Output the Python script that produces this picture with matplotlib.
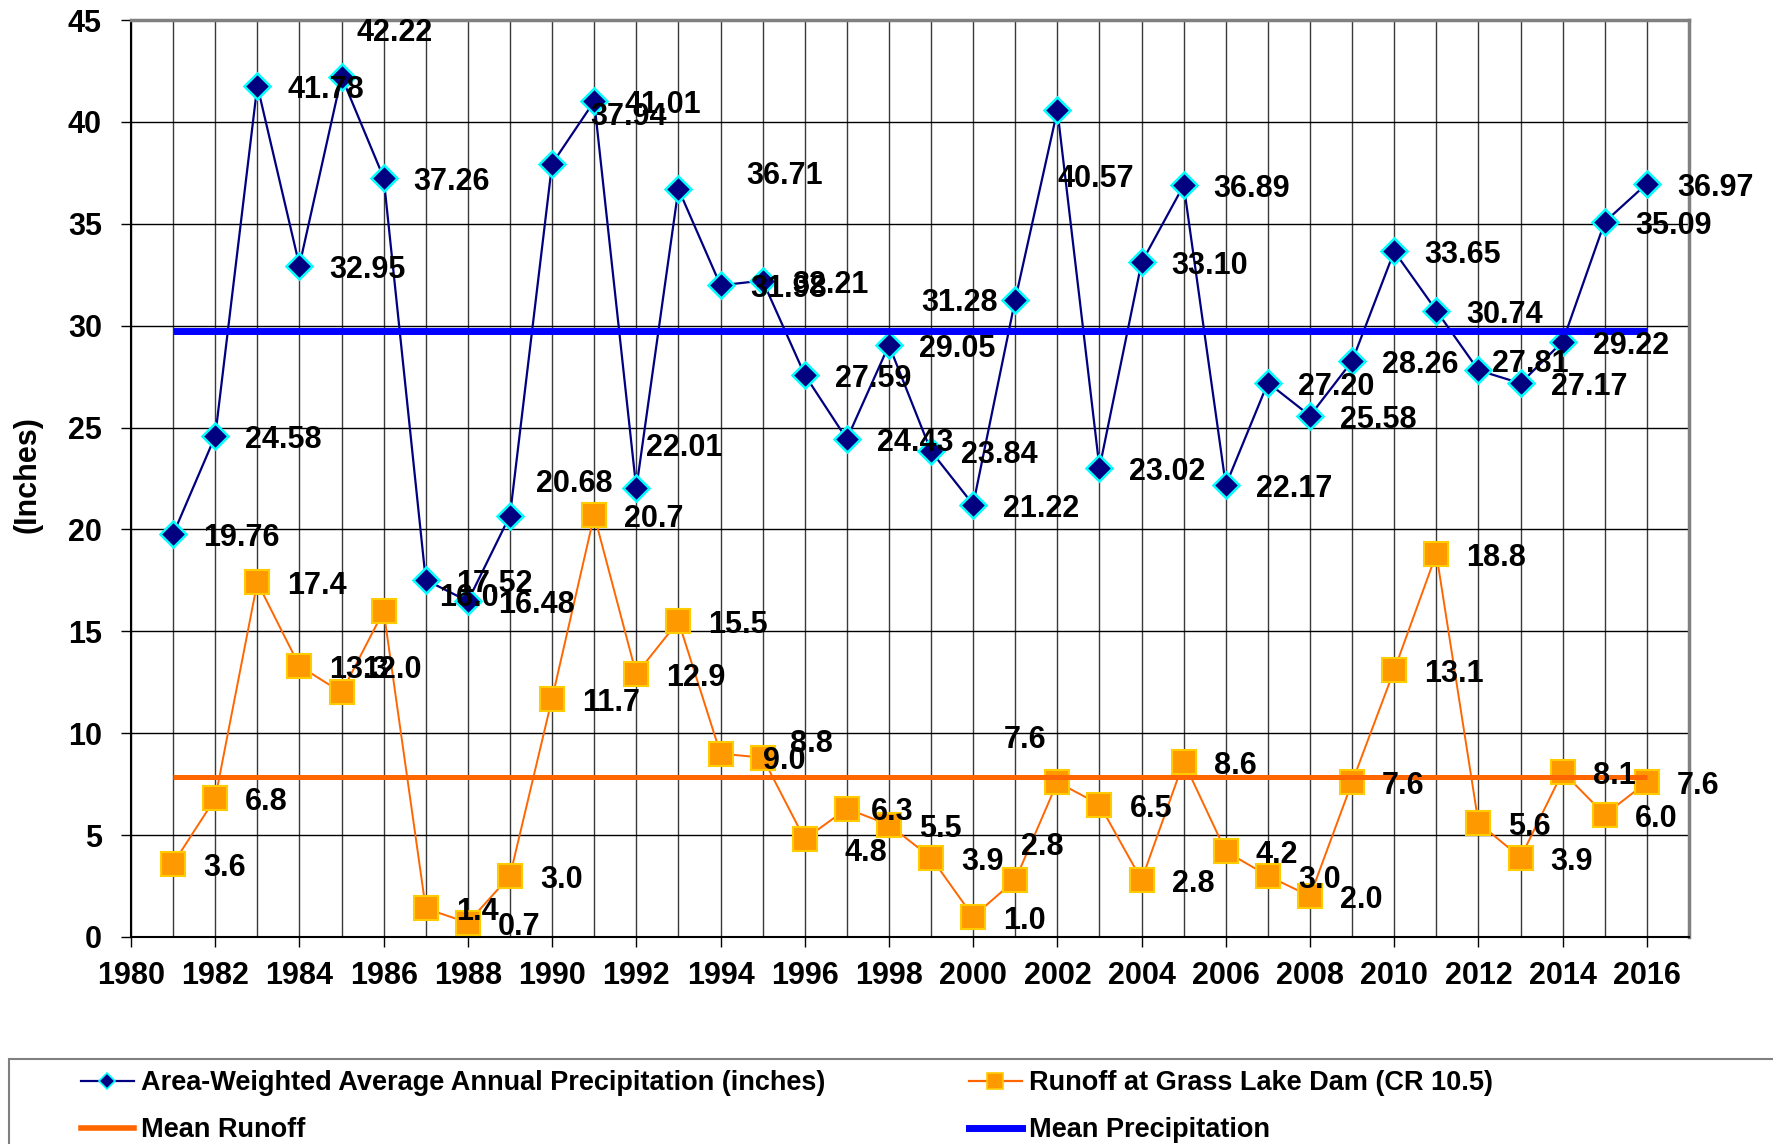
import matplotlib
matplotlib.use("Agg")
import matplotlib.pyplot as plt
import numpy as np
from matplotlib.lines import Line2D
from matplotlib.patches import Rectangle
from matplotlib.ticker import MultipleLocator

plt.rcParams["font.family"] = ["Liberation Sans", "DejaVu Sans"]
plt.rcParams["font.weight"] = "bold"

# --- data ---
years = np.arange(1981, 2017)
precip = [19.76, 24.58, 41.78, 32.95, 42.22, 37.26, 17.52, 16.48, 20.68, 37.94,
          41.01, 22.01, 36.71, 31.98, 32.21, 27.59, 24.43, 29.05, 23.84, 21.22,
          31.28, 40.57, 23.02, 33.10, 36.89, 22.17, 27.20, 25.58, 28.26, 33.65,
          30.74, 27.81, 27.17, 29.22, 35.09, 36.97]
runoff = [3.6, 6.8, 17.4, 13.3, 12.0, 16.0, 1.4, 0.7, 3.0, 11.7,
          20.7, 12.9, 15.5, 9.0, 8.8, 4.8, 6.3, 5.5, 3.9, 1.0,
          2.8, 7.6, 6.5, 2.8, 8.6, 4.2, 3.0, 2.0, 7.6, 13.1,
          18.8, 5.6, 3.9, 8.1, 6.0, 7.6]

NAVY, CYAN = "#000080", "#00FFFF"
ORANGE, SQ_FILL, SQ_EDGE = "#FF6600", "#FF9900", "#FFCC00"
BLUE = "#0000FF"

# label nudges in pixels (default sits just right of the marker)
DEFAULT_OFF = (30, -4)
precip_nudge = {1985: (15, 44), 1989: (26, 32), 1990: (38, 47), 1992: (10, 40),
                1993: (68, 13), 2001: (-17, -3), 2002: (0, -69), 2012: (14, 6)}
runoff_nudge = {1985: (21, 22), 1986: (55, 13), 1994: (42, -7), 1995: (27, 14),
                1996: (40, -14), 1997: (24, -3), 2001: (6, 33), 2002: (-11, 42)}

fig = plt.figure(figsize=(17.73, 11.44), dpi=100)
W, H = 1773, 1144
ax = fig.add_axes([131 / W, 1 - 937 / H, (1689 - 131) / W, (937 - 20) / H])

ax.plot(years, precip, color=NAVY, lw=1.6, marker="D", ms=13, mfc=NAVY, mec=CYAN,
        mew=1.8, zorder=4)
ax.plot(years, runoff, color=ORANGE, lw=1.4, marker="s", ms=17, mfc=SQ_FILL, mec=SQ_EDGE,
        mew=1.5, zorder=4)
ax.plot([years[0], years[-1]], [np.mean(runoff)] * 2, color=ORANGE, lw=3.6, zorder=5,
        solid_capstyle="butt")
ax.plot([years[0], years[-1]], [np.mean(precip)] * 2, color=BLUE, lw=5, zorder=5,
        solid_capstyle="butt")

lbl = dict(fontsize=22, fontweight="bold", color="black", va="center", zorder=6,
           textcoords="offset pixels")
for yr, v in zip(years, precip):
    dx, dy = precip_nudge.get(int(yr), DEFAULT_OFF)
    ax.annotate(f"{v:.2f}", (yr, v), xytext=(dx, dy), ha="right" if dx < 0 else "left", **lbl)
for yr, v in zip(years, runoff):
    dx, dy = runoff_nudge.get(int(yr), DEFAULT_OFF)
    ax.annotate(f"{v:.1f}", (yr, v), xytext=(dx, dy), ha="right" if dx < 0 else "left", **lbl)

ax.set_xlim(1980, 2017)
ax.set_ylim(0, 45)
ax.set_xticks(range(1980, 2017, 2))
ax.xaxis.set_minor_locator(MultipleLocator(1))
ax.yaxis.set_major_locator(MultipleLocator(5))
ax.grid(True, axis="x", which="both", color="#3a3a3a", lw=1.0)
ax.grid(True, axis="y", which="major", color="black", lw=1.0)
ax.set_axisbelow(True)
ax.tick_params(which="minor", length=0)
ax.tick_params(axis="y", which="major", direction="out", length=7, width=1, pad=14, labelsize=22)
ax.tick_params(axis="x", which="major", direction="out", length=7, width=1, pad=10, labelsize=22)
for t in ax.get_xticklabels() + ax.get_yticklabels():
    t.set_fontweight("bold")
for s in ("left", "bottom"):
    ax.spines[s].set_color("black")
    ax.spines[s].set_linewidth(1.5)
for s in ("top", "right"):
    ax.spines[s].set_color("#808080")
    ax.spines[s].set_linewidth(2.5)

fig.text(27 / W, 1 - 475 / H, "(Inches)", rotation=90, ha="center", va="center",
         fontsize=22, fontweight="bold")

# legend box
fig.patches.append(Rectangle((9 / W, -0.02), 1.0, 0.02 + 1 - 1059 / H, transform=fig.transFigure,
                             fill=False, edgecolor="#808080", lw=1.5))
h_pre = Line2D([], [], color=NAVY, lw=1.6, marker="D", ms=8, mfc=NAVY, mec=CYAN, mew=1.2)
h_run = Line2D([], [], color=ORANGE, lw=1.6, marker="s", ms=11, mfc=SQ_FILL, mec=SQ_EDGE, mew=1.2)
h_mrun = Line2D([], [], color=ORANGE, lw=4)
h_mpre = Line2D([], [], color=BLUE, lw=5)
leg_kw = dict(loc="upper left", frameon=False, borderpad=0, borderaxespad=0,
              handlelength=1.95, handletextpad=0.27, labelspacing=0.78,
              prop={"size": 19.5, "weight": "bold"})
fig.legend([h_pre, h_mrun], ["Area-Weighted Average Annual Precipitation (inches)", "Mean Runoff"],
           bbox_to_anchor=(81 / W, 1 - 1070 / H), **leg_kw)
fig.legend([h_run, h_mpre], ["Runoff at Grass Lake Dam (CR 10.5)", "Mean Precipitation"],
           bbox_to_anchor=(969 / W, 1 - 1070 / H), **leg_kw)

fig.savefig("out.png", dpi=100, facecolor="white")
